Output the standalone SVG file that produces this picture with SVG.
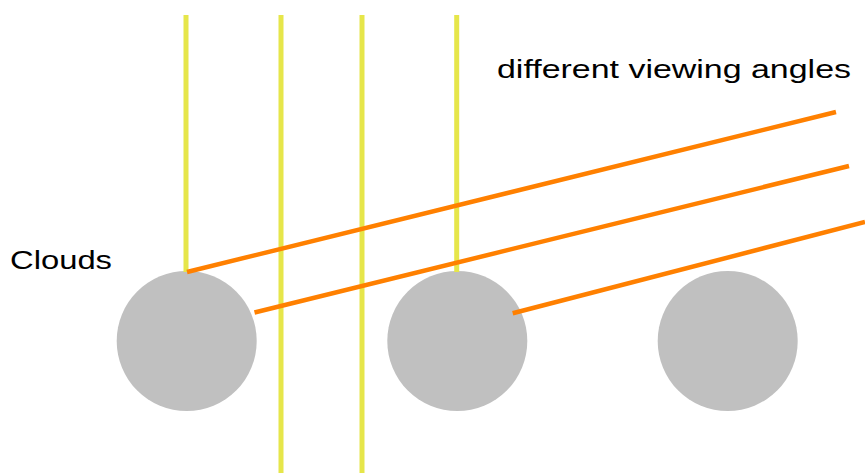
<svg xmlns="http://www.w3.org/2000/svg" width="865" height="473" viewBox="0 0 865 473">
<style>
.cloud{fill:#c0c0c0}
.sun{stroke:#e6e64a;stroke-width:5;fill:none}
.view{stroke:#ff8000;stroke-width:4.5;fill:none}
.lbl{font-family:"Liberation Sans",Arial,sans-serif;font-size:25px;fill:#000}
</style>
<rect width="865" height="473" fill="#fff"/>
<g id="cloud1"><circle class="cloud" cx="186.7" cy="341" r="70"/></g>
<g id="cloud2"><circle class="cloud" cx="457.3" cy="341" r="70"/></g>
<g id="cloud3"><circle class="cloud" cx="727.7" cy="341" r="70"/></g>
<g id="connectors">
<line class="sun" x1="186" y1="15" x2="186" y2="272"/>
<line class="sun" x1="281" y1="15" x2="281" y2="473"/>
<line class="sun" x1="362" y1="15" x2="362" y2="473"/>
<line class="sun" x1="456.7" y1="15" x2="456.7" y2="272"/>
<line class="view" x1="187" y1="272" x2="836" y2="112"/>
<line class="view" x1="254.5" y1="312.5" x2="849" y2="166"/>
<line class="view" x1="512.7" y1="313.3" x2="865" y2="222"/>
</g>
<g id="label-clouds"><text class="lbl" x="10" y="269" textLength="102" lengthAdjust="spacingAndGlyphs">Clouds</text></g>
<g id="label-angles"><text class="lbl" x="497" y="78" textLength="354" lengthAdjust="spacingAndGlyphs">different viewing angles</text></g>
</svg>
